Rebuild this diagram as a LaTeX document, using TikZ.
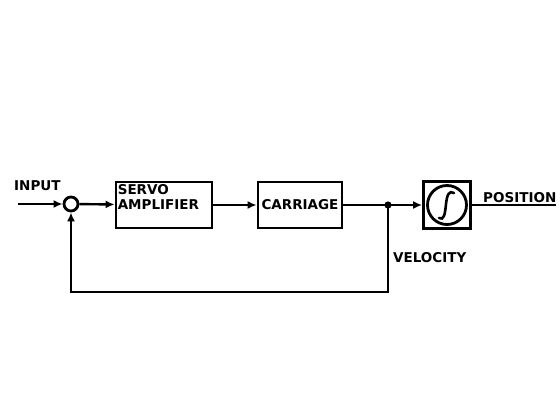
\documentclass[tikz,border=0pt]{standalone}
\usepackage{fontspec}
\setmainfont{DejaVu Sans}
\usetikzlibrary{positioning, arrows.meta}

\tikzset{
    blk/.style={draw, line width=2.8pt, inner sep=0pt},
    lbl/.style={font=\bfseries\fontsize{13.5}{14}\selectfont, inner sep=0pt},
    arr/.style={line width=2.4pt, -{Latex[length=9pt, width=8pt]}},
    wire/.style={line width=2.4pt}
}

\begin{document}
\begin{tikzpicture}[x=1pt, y=-1pt]
    \useasboundingbox (0,0) rectangle (560,401);

    % blocks
    \node[blk, circle, minimum size=14pt] (sum) at (71,204) {};
    \node[blk, minimum width=96pt, minimum height=46pt] (servo) at (164,205) {};
    \node[lbl, anchor=north west, align=left] (servotxt) at ([shift={(3,4)}]servo.north west) {SERVO\\[1pt]AMPLIFIER};
    \node[blk, lbl, minimum width=84pt, minimum height=46pt] (carriage) at (300,205) {CARRIAGE};
    \node[blk, minimum size=47pt] (integ) at (447,205) {};
    \node[blk, circle, minimum size=39pt] (integc) at (integ.center) {};
    \draw[line width=2.6pt, line cap=round] (454,193) .. controls (449,190) and (447,195) .. (446,204)
        .. controls (445,214) and (444,221) .. (439,218);

    % signal points
    \coordinate (in) at (18,204);
    \coordinate (out) at (556,205);
    \fill (388,205) circle (3.6pt) coordinate (junc);
    \coordinate (fb) at (388,292);

    % connectors
    \draw[arr] (in) -- (sum);
    \draw[arr] (sum) -- (servo);
    \draw[arr] (servo) -- (carriage);
    \draw[wire] (carriage) -- (junc);
    \draw[arr] (junc) -- (integ);
    \draw[wire] (integ) -- (out);
    \draw[arr] (junc) -- (fb) -| (sum.south);

    % labels
    \node[lbl, anchor=south west] (inputtxt) at (14,191) {INPUT};
    \node[lbl, anchor=south west] (postxt) at (483,203) {POSITION};
    \node[lbl, anchor=west] (veltxt) at (393,258) {VELOCITY};
\end{tikzpicture}
\end{document}
